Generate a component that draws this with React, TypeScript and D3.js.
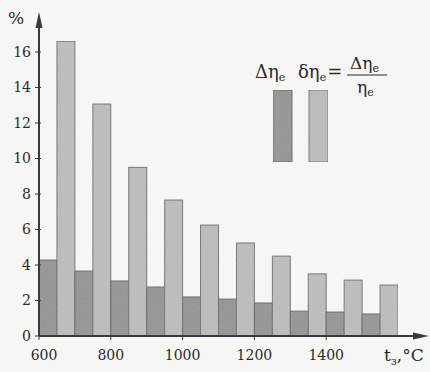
import React from 'react';
import * as d3 from 'd3';

// temperature steps (left edge of each pair), °C
const temps = [600, 700, 800, 900, 1000, 1100, 1200, 1300, 1400, 1500];
// absolute change Δηe, %
const absChange = [4.28, 3.66, 3.1, 2.76, 2.2, 2.08, 1.86, 1.4, 1.35, 1.24];
// relative change δηe, %
const relChange = [16.6, 13.07, 9.5, 7.66, 6.25, 5.24, 4.5, 3.5, 3.15, 2.87];
const yTicks = [0, 2, 4, 6, 8, 10, 12, 14, 16];
const xTicks = [600, 800, 1000, 1200, 1400];

const W = 430;
const H = 372;
const FONT = "'DejaVu Serif', serif";
const DARK = '#8f8f8f';
const LIGHT = '#bdbdbd';
const INK = '#3a3a3a';
const TXT = '#2a2a2a';

export default function App() {
  const x = d3.scaleLinear().domain([600, 1600]).range([39, 398]);
  const y = d3.scaleLinear().domain([0, 16]).range([336, 52]);
  const half = 50;

  return (
    <svg width={W} height={H}
      style={{ position: 'absolute', left: 0, top: 0, background: '#f6f6f4', fontFamily: FONT }}>
      <defs>
        <filter id="grain" x="0" y="0" width="100%" height="100%">
          <feTurbulence type="fractalNoise" baseFrequency="0.9" numOctaves="2" seed="3" result="n" />
          <feColorMatrix in="n" type="matrix"
            values="0 0 0 0 0.5  0 0 0 0 0.5  0 0 0 0 0.5  0 0 0 0.35 0" result="g" />
          <feComposite in="g" in2="SourceGraphic" operator="atop" />
        </filter>
      </defs>

      {/* bars */}
      <g filter="url(#grain)">
        {temps.map((t, i) => (
          <g key={t}>
            <rect x={x(t)} y={y(absChange[i])} width={x(t + half) - x(t)}
              height={y(0) - y(absChange[i])} fill={DARK} stroke="#555" strokeWidth={1} />
            <rect x={x(t + half)} y={y(relChange[i])} width={x(t + 2 * half) - x(t + half)}
              height={y(0) - y(relChange[i])} fill={LIGHT} stroke="#666" strokeWidth={1} />
          </g>
        ))}
      </g>

      {/* y axis */}
      <line x1={x(600)} x2={x(600)} y1={y(0)} y2={16} stroke={INK} strokeWidth={2} />
      <path d={`M${x(600)},12 L${x(600) - 3.5},28 L${x(600) + 3.5},28 Z`} fill={INK} />
      {yTicks.map(v => (
        <g key={v}>
          <line x1={x(600) - 4} x2={x(600) + 2} y1={y(v)} y2={y(v)} stroke={INK} strokeWidth={1} />
          <text x={31} y={y(v)} dy="0.35em" textAnchor="end" fontSize={14} fill={TXT}>{v}</text>
        </g>
      ))}
      <text x={8} y={24} fontSize={17} fill={TXT}>%</text>

      {/* x axis */}
      <line x1={x(600)} x2={424} y1={y(0)} y2={y(0)} stroke={INK} strokeWidth={2} />
      <path d={`M429,${y(0)} L413,${y(0) - 3.5} L413,${y(0) + 3.5} Z`} fill={INK} />
      {xTicks.map(v => (
        <g key={v}>
          <line x1={x(v)} x2={x(v)} y1={y(0)} y2={y(0) + 4} stroke={INK} strokeWidth={1} />
          <text x={x(v) + (v === 600 ? 5 : 0)} y={360} textAnchor="middle" fontSize={14} fill={TXT}>{v}</text>
        </g>
      ))}
      <text x={384} y={361} fontSize={17} fill={TXT}>
        t<tspan fontSize={11} dy={4}>з</tspan><tspan dy={-4}>,°C</tspan>
      </text>

      {/* legend */}
      <g filter="url(#grain)">
        <rect x={273} y={90} width={19} height={72} fill={DARK} stroke="#555" />
        <rect x={309} y={90} width={19} height={72} fill={LIGHT} stroke="#666" />
      </g>
      <text x={255} y={78} fontSize={18} fill={TXT}>
        Δη<tspan fontSize={11} dy={3}>e</tspan>
      </text>
      <text x={298} y={78} fontSize={18} fill={TXT}>
        δη<tspan fontSize={11} dy={3}>e</tspan><tspan dy={-3} dx={1}>=</tspan>
      </text>
      <text x={350} y={69} fontSize={17} fill={TXT}>
        Δη<tspan fontSize={11} dy={3}>e</tspan>
      </text>
      <line x1={347} x2={387} y1={75} y2={75} stroke={TXT} strokeWidth={1} />
      <text x={357} y={93} fontSize={17} fill={TXT}>
        η<tspan fontSize={11} dy={3}>e</tspan>
      </text>
    </svg>
  );
}
